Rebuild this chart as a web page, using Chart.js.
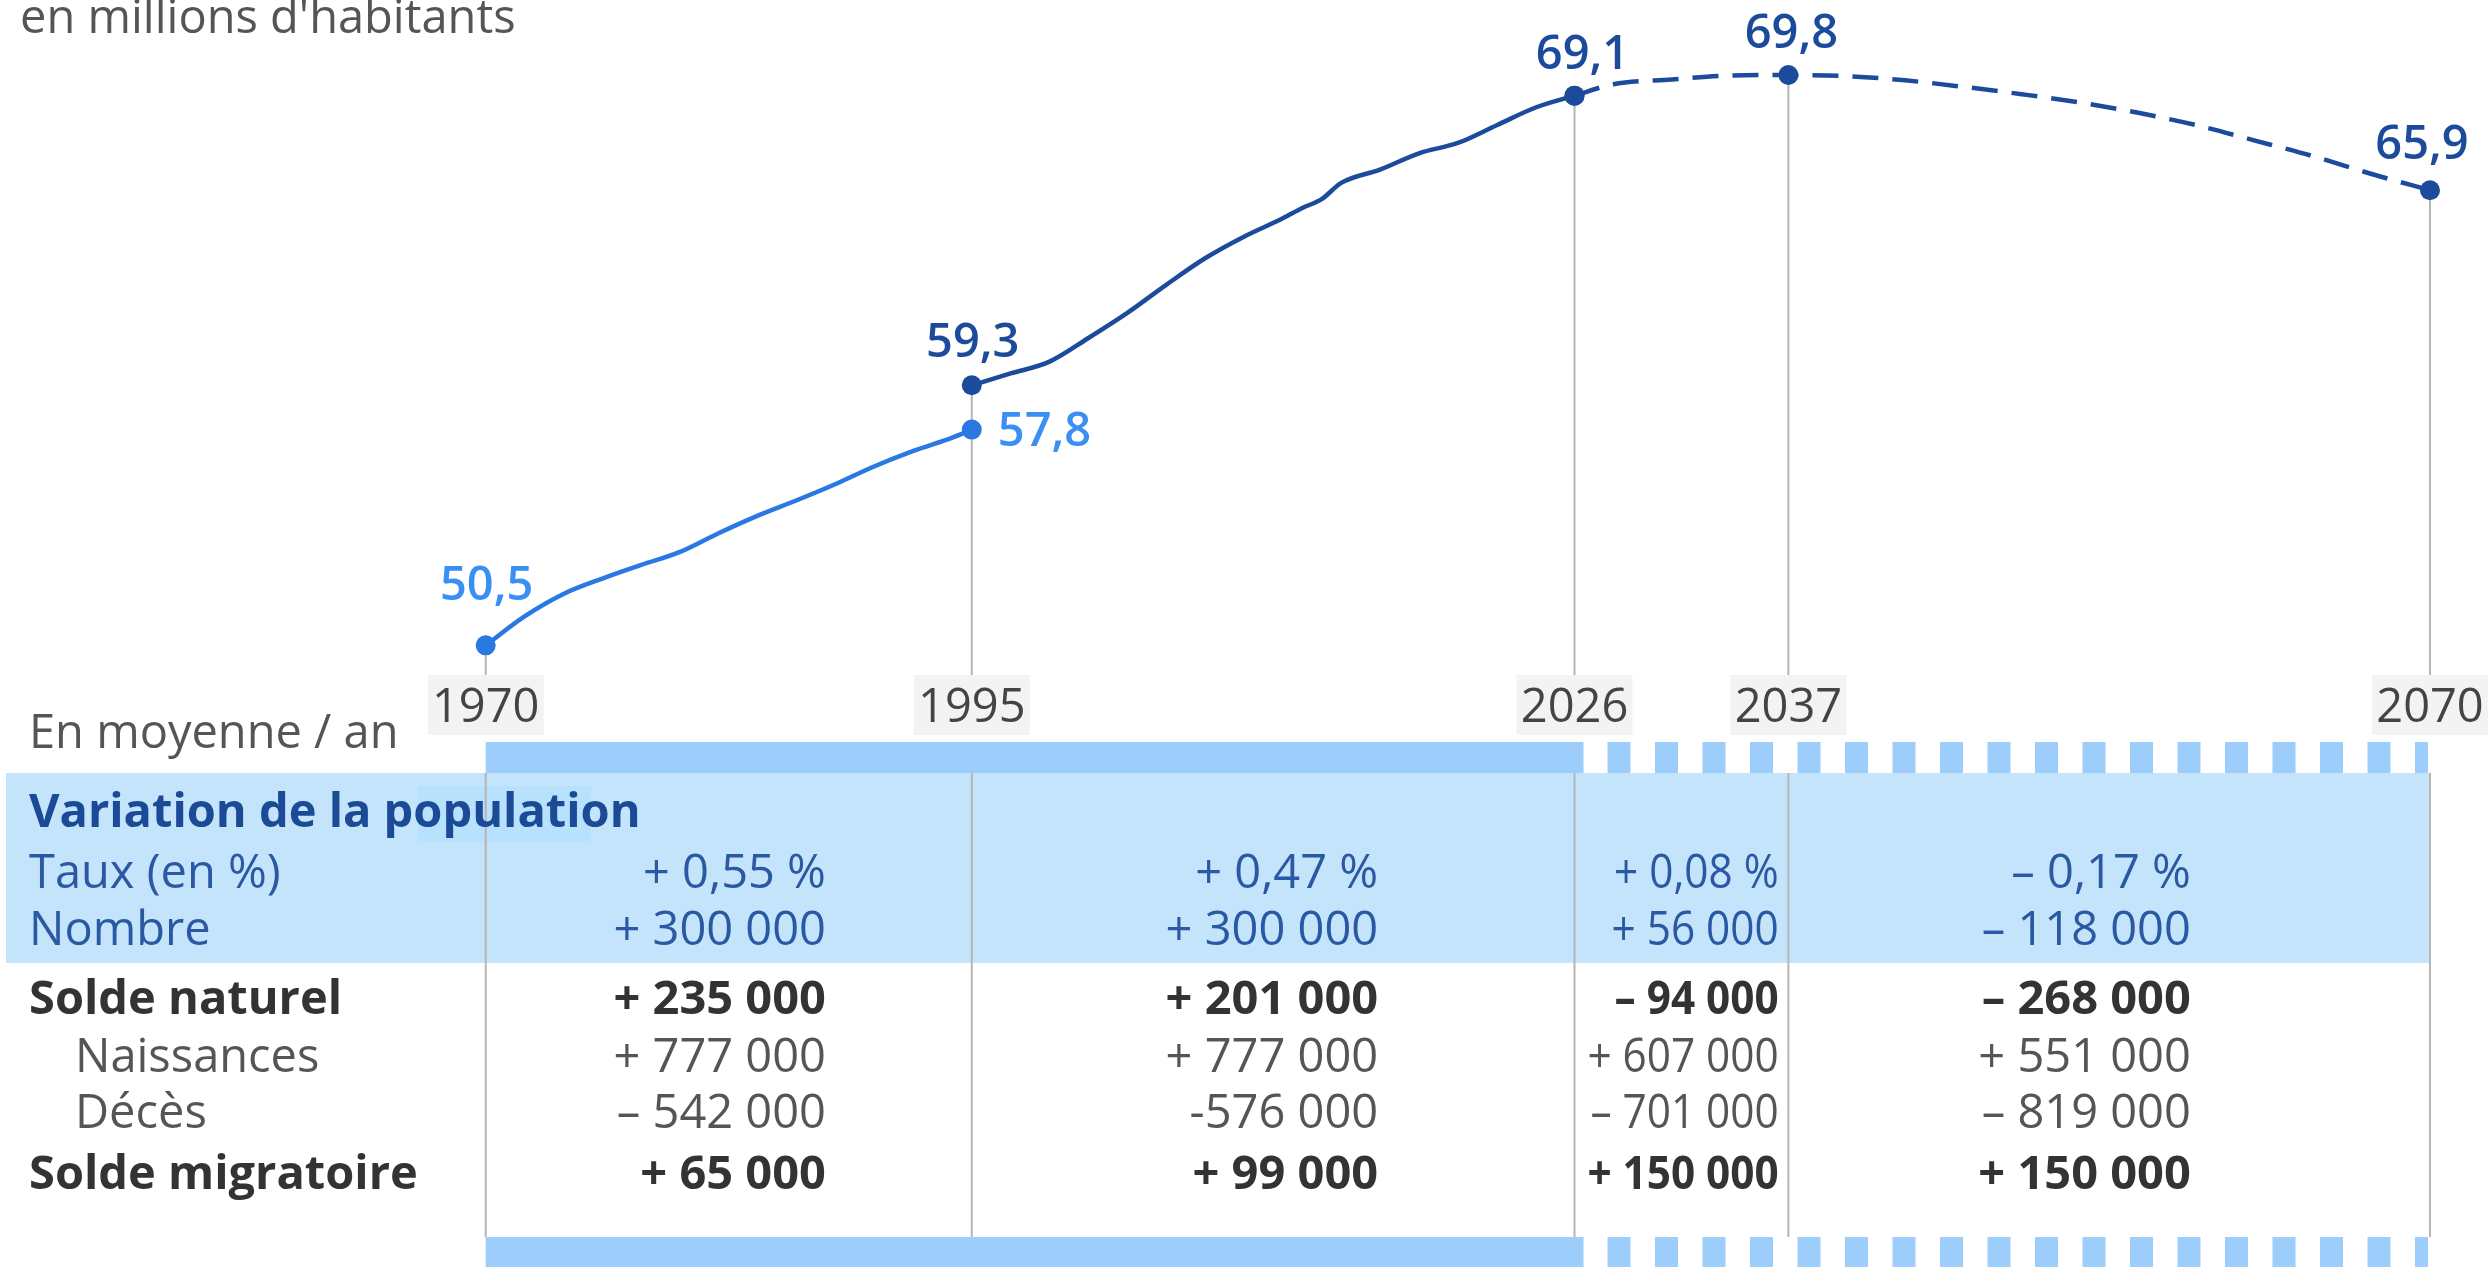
<!DOCTYPE html>
<html lang="fr">
<head>
<meta charset="utf-8">
<title>Population de la France</title>
<script src="https://cdn.jsdelivr.net/npm/chart.js@4/dist/chart.umd.min.js"></script>
<style>
  html, body { margin: 0; padding: 0; background: #fff; }
  #wrap { width: 2490px; height: 1267px; }
</style>
</head>
<body>
<div id="wrap"><canvas id="pop" width="2490" height="1267"></canvas></div>
<script>
// population en millions : ancienne série (1970-1995)
var oldYears  = [1970, 1972, 1974, 1976, 1978, 1980, 1982, 1984, 1986, 1988, 1990, 1992, 1994, 1995];
var oldValues = [50.5, 51.48, 52.24, 52.76, 53.22, 53.66, 54.3, 54.89, 55.41, 55.96, 56.56, 57.08, 57.53, 57.8];

// série actuelle (1995-2026)
var estYears  = [1995, 1997, 1999, 2001, 2003, 2005, 2007, 2009, 2011, 2012, 2013, 2014, 2016, 2018, 2020, 2022, 2024, 2026];
var estValues = [59.3, 59.7, 60.1, 60.9, 61.75, 62.7, 63.6, 64.33, 64.95, 65.3, 65.6, 66.15, 66.6, 67.15, 67.5, 68.1, 68.7, 69.1];

// projection (2026-2070)
var projYears  = [2026, 2028, 2031, 2034, 2037, 2040, 2043, 2046, 2049, 2052, 2055, 2058, 2061, 2064, 2067, 2070];
var projValues = [69.1, 69.49, 69.65, 69.78, 69.8, 69.76, 69.62, 69.4, 69.15, 68.87, 68.52, 68.1, 67.58, 67.05, 66.45, 65.9];

// années repères (axe)
var tickYears  = [1970, 1995, 2026, 2037, 2070];
var tickLabels = ['1970', '1995', '2026', '2037', '2070'];

// tableau : en moyenne par an
var unitText   = "en millions d'habitants";
var tableTitle = 'En moyenne / an';
var rowLabels  = ['Variation de la population', 'Taux (en %)', 'Nombre', 'Solde naturel', 'Naissances', 'Décès', 'Solde migratoire'];
var tauxValues      = ['+ 0,55 %', '+ 0,47 %', '+ 0,08 %', '– 0,17 %'];
var nombreValues    = ['+ 300 000', '+ 300 000', '+ 56 000', '– 118 000'];
var naturelValues   = ['+ 235 000', '+ 201 000', '– 94 000', '– 268 000'];
var naissanceValues = ['+ 777 000', '+ 777 000', '+ 607 000', '+ 551 000'];
var decesValues     = ['– 542 000', '-576 000', '– 701 000', '– 819 000'];
var migratoireValues = ['+ 65 000', '+ 99 000', '+ 150 000', '+ 150 000'];

var FONT = "'Open Sans', sans-serif";
var LIGHT = '#2a78e2';
var DARK = '#1d4b9b';
var GRID = '#b5b5b5';

function pairs(xs, ys) {
  return xs.map(function (x, i) { return { x: x, y: ys[i] }; });
}

function maxValueAt(yr) {
  var best = null;
  [[oldYears, oldValues], [estYears, estValues], [projYears, projValues]].forEach(function (s) {
    var i = s[0].indexOf(yr);
    if (i >= 0 && (best === null || s[1][i] > best)) best = s[1][i];
  });
  return best;
}

function markerRadius(c) {
  return c.raw && tickYears.indexOf(c.raw.x) >= 0 ? 10 : 0;
}

// position des étiquettes de valeur (par série et année)
var labelPlacement = {
  '0-1970': { dx: 1, dy: -45, align: 'center', color: '#3a8ff5' },
  '0-1995': { dx: 26, dy: 16, align: 'left', color: '#3a8ff5' },
  '1-1995': { dx: 1, dy: -28, align: 'center', color: DARK },
  '1-2026': { dx: 8, dy: -27, align: 'center', color: DARK },
  '2-2037': { dx: 3, dy: -27, align: 'center', color: DARK },
  '2-2070': { dx: -8, dy: -31, align: 'center', color: DARK }
};

var decorPlugin = {
  id: 'decor',
  beforeDatasetsDraw: function (chart) {
    var ctx = chart.ctx, xs = chart.scales.x, ys = chart.scales.y;
    var left = xs.getPixelForValue(tickYears[0]);
    var right = xs.getPixelForValue(tickYears[tickYears.length - 1]);
    var projStart = xs.getPixelForValue(2026);
    ctx.save();

    // sous-titre
    ctx.font = '47px ' + FONT;
    ctx.fillStyle = '#555';
    ctx.textAlign = 'left';
    ctx.textBaseline = 'alphabetic';
    ctx.fillText(unitText, 20, 33);
    ctx.fillText(tableTitle, 29, 748);

    // lignes verticales sous les points
    ctx.strokeStyle = GRID;
    ctx.lineWidth = 2;
    tickYears.forEach(function (yr) {
      var px = xs.getPixelForValue(yr);
      ctx.beginPath();
      ctx.moveTo(px, ys.getPixelForValue(maxValueAt(yr)));
      ctx.lineTo(px, 676);
      ctx.stroke();
    });

    // étiquettes des années
    ctx.font = '47px ' + FONT;
    ctx.textAlign = 'center';
    tickYears.forEach(function (yr, i) {
      var px = xs.getPixelForValue(yr);
      ctx.fillStyle = '#f3f3f3';
      ctx.fillRect(px - 58, 675, 116, 60);
      ctx.fillStyle = '#444';
      ctx.fillText(tickLabels[i], px, 722);
    });

    // fond bleu du bloc « variation »
    ctx.fillStyle = '#c4e4fc';
    ctx.fillRect(6, 773, right - 6, 190);
    ctx.fillStyle = '#b8e1fd';
    ctx.fillRect(418, 786, 173, 57);

    // bandes haut et bas (pleine puis pointillée pour la projection)
    [742, 1237].forEach(function (top) {
      ctx.fillStyle = '#9dcdfb';
      ctx.fillRect(left, top, projStart + 9 - left, 31);
      for (var sx = projStart + 33; sx < right; sx += 47.5) {
        ctx.fillRect(sx, top, Math.min(23, right - 2 - sx), 31);
      }
    });

    // lignes de colonnes du tableau
    ctx.strokeStyle = GRID;
    tickYears.forEach(function (yr) {
      var px = xs.getPixelForValue(yr);
      ctx.beginPath();
      ctx.moveTo(px, 773);
      ctx.lineTo(px, 1237);
      ctx.stroke();
    });

    // lignes du tableau
    var rowValues = [null, tauxValues, nombreValues, naturelValues, naissanceValues, decesValues, migratoireValues];
    var rowStyle = [
      { y: 827, weight: 'bold', color: '#1b4a97', indent: 29 },
      { y: 888, weight: 'normal', color: '#2a58a3', indent: 29 },
      { y: 945, weight: 'normal', color: '#2a58a3', indent: 29 },
      { y: 1014, weight: 'bold', color: '#333', indent: 29 },
      { y: 1072, weight: 'normal', color: '#555', indent: 75 },
      { y: 1128, weight: 'normal', color: '#555', indent: 75 },
      { y: 1189, weight: 'bold', color: '#333', indent: 29 }
    ];
    var valueAnchors = [1987.5, 2015.9, 2036.5, 2057.7];
    var columnSqueeze = [1, 1, 0.9, 1];   // colonne 2026-2037 plus étroite
    rowLabels.forEach(function (lab, r) {
      var st = rowStyle[r];
      ctx.font = st.weight + ' 47px ' + FONT;
      ctx.fillStyle = st.color;
      ctx.textAlign = 'left';
      ctx.fillText(lab, st.indent, st.y);
      if (rowValues[r]) {
        ctx.textAlign = 'right';
        rowValues[r].forEach(function (v, c) {
          ctx.save();
          ctx.translate(xs.getPixelForValue(valueAnchors[c]), st.y);
          ctx.scale(columnSqueeze[c], 1);
          ctx.fillText(v, 0, 0);
          ctx.restore();
        });
      }
    });
    ctx.restore();
  },
  afterDatasetsDraw: function (chart) {
    var ctx = chart.ctx;
    ctx.save();
    ctx.font = '600 47px ' + FONT;
    ctx.textBaseline = 'alphabetic';
    chart.data.datasets.forEach(function (ds, di) {
      chart.getDatasetMeta(di).data.forEach(function (pt, i) {
        var key = di + '-' + ds.data[i].x;
        var place = labelPlacement[key];
        if (!place) return;
        ctx.fillStyle = place.color;
        ctx.textAlign = place.align;
        ctx.fillText(ds.data[i].y.toFixed(1).replace('.', ','), pt.x + place.dx, pt.y + place.dy);
      });
    });
    ctx.restore();
  }
};

function draw() {
  new Chart(document.getElementById('pop'), {
    type: 'line',
    data: {
      datasets: [
        { label: 'Ancienne série', data: pairs(oldYears, oldValues), borderColor: LIGHT, backgroundColor: LIGHT, pointBackgroundColor: LIGHT, pointBorderWidth: 0, pointRadius: markerRadius, clip: false },
        { label: 'Estimations', data: pairs(estYears, estValues), borderColor: DARK, backgroundColor: DARK, pointBackgroundColor: DARK, pointBorderWidth: 0, pointRadius: markerRadius, clip: false },
        { label: 'Projection', data: pairs(projYears, projValues), borderColor: DARK, backgroundColor: DARK, pointBackgroundColor: DARK, pointBorderWidth: 0, borderDash: [26, 14], pointRadius: markerRadius, clip: false }
      ]
    },
    options: {
      responsive: false,
      animation: false,
      devicePixelRatio: 1,
      layout: { padding: { left: 485.7, right: 60, top: 7.1, bottom: 547.8 } },
      elements: { line: { borderWidth: 4.5, cubicInterpolationMode: 'monotone', fill: false } },
      scales: {
        x: { type: 'linear', min: 1970, max: 2070, display: false },
        y: { min: 48, max: 72, display: false }
      },
      plugins: { legend: { display: false }, tooltip: { enabled: false } }
    },
    plugins: [decorPlugin]
  });
}

Promise.all([
  document.fonts.load('47px "Open Sans"'),
  document.fonts.load('bold 47px "Open Sans"'),
  document.fonts.load('600 47px "Open Sans"')
]).then(draw, draw);
</script>
</body>
</html>
